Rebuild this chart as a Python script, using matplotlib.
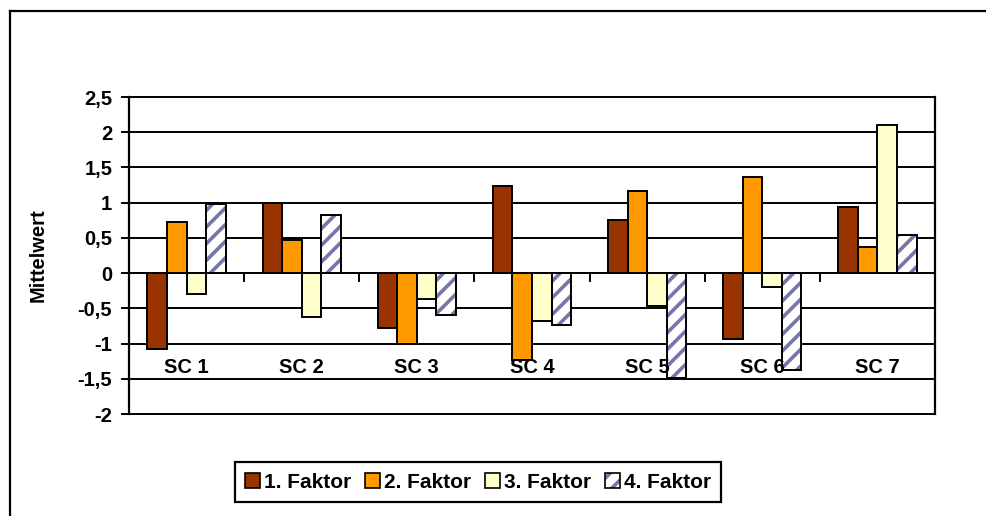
import matplotlib
matplotlib.use("Agg")
import matplotlib.pyplot as plt
from matplotlib.patches import Patch
from matplotlib.lines import Line2D
from matplotlib.legend_handler import HandlerTuple
import numpy as np

plt.rcParams['font.family'] = ['Liberation Sans', 'DejaVu Sans']
plt.rcParams['font.weight'] = 'bold'
plt.rcParams['hatch.linewidth'] = 2.6

categories = ["SC 1", "SC 2", "SC 3", "SC 4", "SC 5", "SC 6", "SC 7"]
series_names = ["1. Faktor", "2. Faktor", "3. Faktor", "4. Faktor"]
faktor1 = [-1.08, 1.00, -0.78, 1.23, 0.76, -0.94, 0.94]
faktor2 = [0.73, 0.47, -1.00, -1.24, 1.16, 1.36, 0.37]
faktor3 = [-0.29, -0.62, -0.37, -0.68, -0.47, -0.20, 2.10]
faktor4 = [0.98, 0.83, -0.59, -0.73, -1.49, -1.38, 0.54]
y_ticks = [2.5, 2, 1.5, 1, 0.5, 0, -0.5, -1, -1.5, -2]
y_ticklabels = ["2,5", "2", "1,5", "1", "0,5", "0", "-0,5", "-1", "-1,5", "-2"]

series = [faktor1, faktor2, faktor3, faktor4]
fills = ["#993300", "#FF9900", "#FFFFCC", "white"]
hatch_color = "#7676a8"

W, H = 986, 516
fig = plt.figure(figsize=(W / 100, H / 100), dpi=100)
ax = fig.add_axes([129 / W, (H - 414) / H, (935 - 129) / W, (414 - 97) / H])

x = np.arange(len(categories))
bw = 0.17
offsets = (np.arange(4) - 1.5) * bw
edge_lw = 1.4

for i, vals in enumerate(series):
    if i == 3:
        ax.bar(x + offsets[i], vals, bw, color="white", edgecolor=hatch_color,
               hatch="//", linewidth=0, zorder=3)
        ax.bar(x + offsets[i], vals, bw, fill=False, edgecolor="black",
               linewidth=edge_lw, zorder=4)
    else:
        ax.bar(x + offsets[i], vals, bw, color=fills[i], edgecolor="black",
               linewidth=edge_lw, zorder=3)

# horizontal grid lines
for yv in y_ticks:
    ax.axhline(yv, color="black", lw=1.4, zorder=1, clip_on=False)

ax.set_xlim(-0.5, len(categories) - 0.5)
ax.set_ylim(-2, 2.5)

# category axis at zero with ticks between groups
for xb in np.arange(-0.5, len(categories) + 0.5, 1.0):
    ax.plot([xb, xb], [0, -0.11], color="black", lw=1.4, zorder=2, clip_on=False)

for xi, lab in zip(x, categories):
    ax.text(xi, -1.335, lab, ha="center", va="center", fontsize=14.5,
            fontweight="bold", zorder=6)

ax.set_xticks([])
ax.set_yticks(y_ticks)
ax.set_yticklabels(y_ticklabels, fontsize=14.5, fontweight="bold")
ax.tick_params(axis="y", direction="out", length=6, width=1.4, pad=6)
for s in ["top", "bottom"]:
    ax.spines[s].set_visible(False)
for s in ["left", "right"]:
    ax.spines[s].set_linewidth(1.6)
    ax.spines[s].set_zorder(5)

ax.set_ylabel("Mittelwert", fontsize=14.5, fontweight="bold")
ax.yaxis.set_label_coords(-(129 - 48) / (935 - 129), 0.5)

hatched = (Patch(facecolor="white", edgecolor=hatch_color, hatch="//", lw=0),
           Patch(fill=False, edgecolor="black", lw=1.2))
handles = [Patch(facecolor=fills[0], edgecolor="black", lw=1.2),
           Patch(facecolor=fills[1], edgecolor="black", lw=1.2),
           Patch(facecolor=fills[2], edgecolor="black", lw=1.2),
           hatched]
leg = fig.legend(handles, series_names, loc="center", ncol=4,
                 bbox_to_anchor=(478 / W, (H - 482) / H),
                 prop={"size": 15, "weight": "bold"},
                 handler_map={tuple: HandlerTuple(ndivide=1, pad=0)},
                 handlelength=0.72, handleheight=0.72, handletextpad=0.2,
                 columnspacing=0.65, borderpad=0.5, borderaxespad=0,
                 fancybox=False, edgecolor="black", framealpha=1)
leg.get_frame().set_linewidth(1.6)

# outer chart frame
fig.add_artist(Line2D([10 / W, 10 / W], [0, (H - 11) / H], color="black",
                      lw=1.6, transform=fig.transFigure))
fig.add_artist(Line2D([10 / W, 1.0], [(H - 11) / H, (H - 11) / H],
                      color="black", lw=1.6, transform=fig.transFigure))

fig.savefig("out.png", dpi=100, facecolor="white")
